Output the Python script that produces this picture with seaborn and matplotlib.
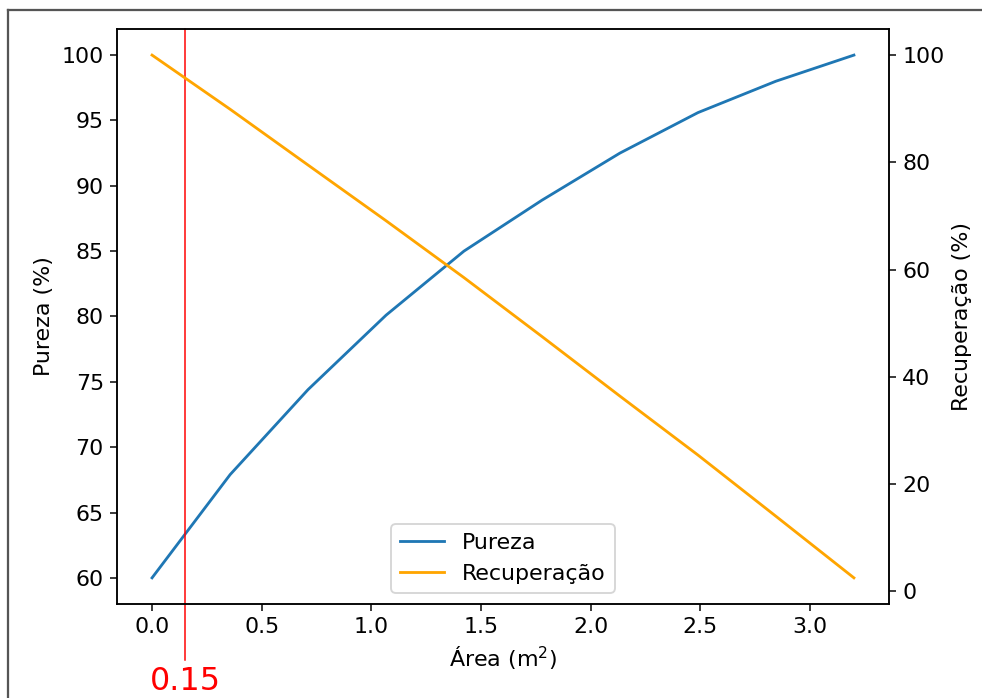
import matplotlib
matplotlib.use("Agg")
import matplotlib.pyplot as plt
import matplotlib.lines as mlines
import seaborn as sns
import pandas as pd

# data
area = [0.0, 0.356, 0.711, 1.067, 1.422, 1.778, 2.133, 2.489, 2.844, 3.2]
pureza = [60.0, 67.9, 74.4, 80.1, 85.0, 88.9, 92.5, 95.6, 98.0, 100.0]
recuperacao = [100.0, 89.9, 79.5, 69.1, 58.5, 47.5, 36.4, 25.4, 14.0, 2.5]
area_corte = 0.15

df = pd.DataFrame({"Area": area, "Pureza": pureza, "Recuperacao": recuperacao})

plt.rcParams["font.size"] = 11.8

dpi = 135
fig = plt.figure(figsize=(982 / dpi, 698 / dpi), dpi=dpi)
ax = fig.add_axes([0.1191, 0.1347, 0.7862, 0.8238])
ax2 = ax.twinx()

# left axis: pureza
sns.lineplot(data=df, x="Area", y="Pureza", ax=ax, color="#1f77b4", label="Pureza", legend=False)
# right axis: recuperacao
sns.lineplot(data=df, x="Area", y="Recuperacao", ax=ax2, color="orange", label="Recuperação", legend=False)

ax.set_xlabel("Área (m$^2$)")
ax.set_ylabel("Pureza (%)")
ax2.set_ylabel("Recuperação (%)")

# red vertical line marking the chosen area, running below the axes
ax.axvline(area_corte, ymin=-0.098, ymax=1, color="red", linewidth=0.8, clip_on=False)
ax.annotate(f"{area_corte:.2f}", xy=(area_corte, 0), xycoords=("data", "axes fraction"),
            xytext=(0, -62), textcoords="offset pixels", ha="center", va="top",
            color="red", fontsize=17, annotation_clip=False)

# legend with both series
h1, l1 = ax.get_legend_handles_labels()
h2, l2 = ax2.get_legend_handles_labels()
ax2.legend(h1 + h2, l1 + l2, loc="lower center")

# screenshot frame on left and top
fig.add_artist(mlines.Line2D([8 / 982, 8 / 982], [0, 1 - 10 / 698], color="#555555", linewidth=1.2))
fig.add_artist(mlines.Line2D([8 / 982, 1], [1 - 10 / 698, 1 - 10 / 698], color="#555555", linewidth=1.2))

fig.savefig("out.png", dpi=dpi)
